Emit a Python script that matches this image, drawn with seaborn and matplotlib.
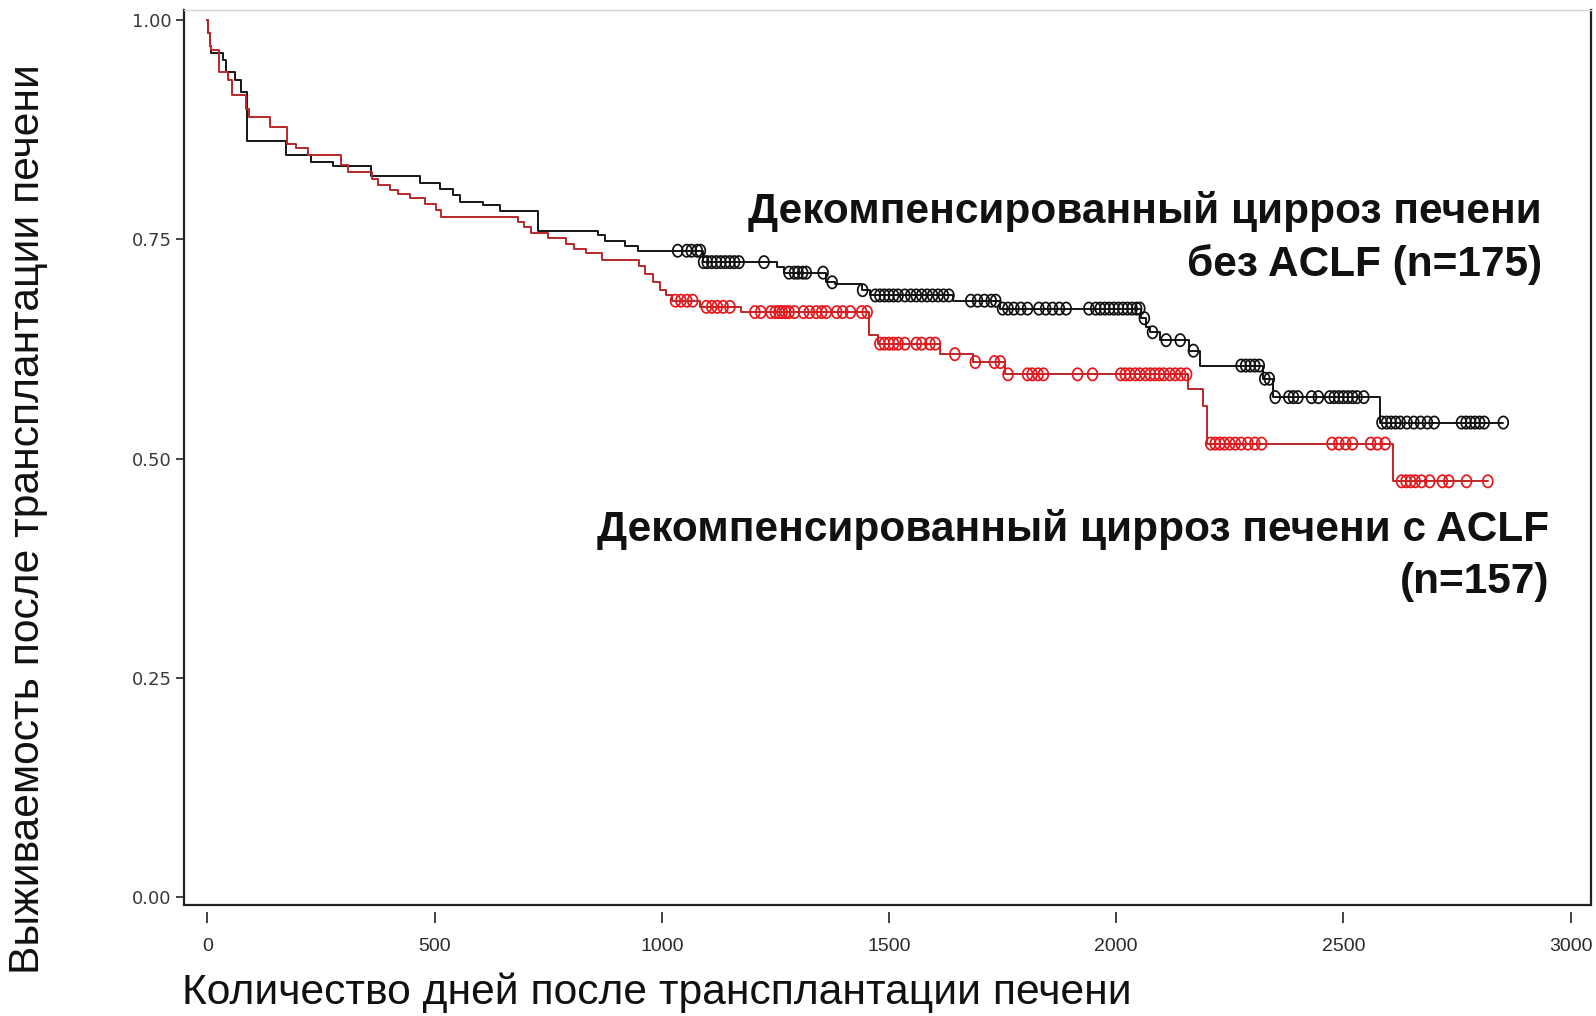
import numpy as np
import pandas as pd
import matplotlib
matplotlib.use("Agg")
import matplotlib.pyplot as plt
from matplotlib.path import Path
import seaborn as sns

# Kaplan-Meier step points: time of each event (days) and survival after it
no_aclf_times = [0, 2, 5, 8, 34, 40, 60, 75, 87, 172, 229, 277, 361, 467, 511, 541, 555, 607,
                 643, 728, 860, 875, 919, 948, 1091, 1254, 1270, 1361, 1381, 1441, 1458, 1641,
                 1745, 2055, 2065, 2075, 2097, 2161, 2184, 2323, 2345, 2580]
no_aclf_surv = [1.0, 0.985, 0.970, 0.962, 0.955, 0.941, 0.932, 0.918, 0.862, 0.846, 0.838,
                0.834, 0.822, 0.814, 0.807, 0.801, 0.793, 0.789, 0.782, 0.759, 0.755, 0.748,
                0.742, 0.737, 0.724, 0.718, 0.712, 0.701, 0.699, 0.692, 0.686, 0.680, 0.671,
                0.660, 0.650, 0.644, 0.635, 0.623, 0.606, 0.591, 0.570, 0.541]
no_aclf_end = 2852
no_aclf_censored = [1035, 1055, 1065, 1078, 1085, 1092, 1100, 1110, 1120, 1130, 1140, 1150, 1160,
                    1170, 1225, 1280, 1292, 1300, 1310, 1318, 1355, 1375, 1442, 1470, 1480, 1490,
                    1500, 1510, 1520, 1535, 1548, 1560, 1572, 1584, 1596, 1608, 1620, 1632, 1680,
                    1695, 1710, 1725, 1735, 1750, 1762, 1775, 1790, 1805, 1830, 1845, 1860, 1875,
                    1890, 1940, 1955, 1965, 1975, 1985, 1995, 2005, 2015, 2025, 2035, 2045, 2052,
                    2062, 2080, 2110, 2141, 2170, 2275, 2285, 2295, 2305, 2315, 2327, 2337, 2350,
                    2380, 2390, 2400, 2430, 2445, 2470, 2480, 2490, 2500, 2510, 2520, 2530, 2545,
                    2585, 2595, 2605, 2615, 2625, 2640, 2655, 2670, 2685, 2700, 2760, 2770, 2780,
                    2790, 2800, 2810, 2852]

aclf_times = [0, 2, 5, 8, 25, 45, 55, 86, 91, 137, 175, 195, 222, 295, 310, 363, 376, 401, 420,
              445, 478, 504, 515, 684, 697, 713, 750, 790, 807, 834, 868, 950, 963, 980, 995,
              1010, 1022, 1085, 1175, 1456, 1475, 1612, 1685, 1755, 2157, 2190, 2200, 2610]
aclf_surv = [1.0, 0.985, 0.970, 0.966, 0.941, 0.932, 0.915, 0.899, 0.890, 0.878, 0.859, 0.854,
             0.846, 0.835, 0.827, 0.819, 0.812, 0.806, 0.802, 0.797, 0.790, 0.783, 0.776, 0.770,
             0.764, 0.757, 0.752, 0.745, 0.739, 0.734, 0.727, 0.720, 0.711, 0.701, 0.692, 0.686,
             0.680, 0.673, 0.667, 0.641, 0.631, 0.619, 0.610, 0.596, 0.579, 0.560, 0.517, 0.474]
aclf_end = 2818
aclf_censored = [1030, 1042, 1055, 1068, 1098, 1110, 1122, 1135, 1150, 1205, 1218, 1240, 1250,
                 1258, 1265, 1272, 1280, 1292, 1312, 1325, 1340, 1352, 1362, 1385, 1398, 1415,
                 1440, 1452, 1480, 1490, 1500, 1510, 1520, 1535, 1560, 1572, 1590, 1602, 1645,
                 1690, 1732, 1745, 1762, 1805, 1815, 1828, 1840, 1915, 1948, 2010, 2020, 2030,
                 2042, 2052, 2065, 2075, 2085, 2095, 2105, 2118, 2130, 2142, 2155, 2208, 2218,
                 2228, 2238, 2250, 2262, 2275, 2290, 2305, 2320, 2475, 2490, 2505, 2520, 2560,
                 2575, 2592, 2628, 2638, 2648, 2658, 2672, 2690, 2718, 2732, 2771, 2818]

group_names = ["no_aclf", "aclf"]
x_ticks = [0, 500, 1000, 1500, 2000, 2500, 3000]
y_ticks = [0.00, 0.25, 0.50, 0.75, 1.00]
x_label = "Количество дней после трансплантации печени"
y_label = "Выживаемость после трансплантации печени"
label_no_aclf = ["Декомпенсированный цирроз печени", "без ACLF (n=175)"]
label_aclf = ["Декомпенсированный цирроз печени с ACLF", "(n=157)"]


def step_frame(times, surv, end, group):
    t = list(times) + [end]
    s = list(surv) + [surv[-1]]
    return pd.DataFrame({"t": t, "S": s, "group": group})


def censor_frame(times, surv, cens, group):
    idx = np.searchsorted(np.asarray(times), np.asarray(cens), side="right") - 1
    return pd.DataFrame({"t": cens, "S": np.asarray(surv)[idx], "group": group})


curves = pd.concat([
    step_frame(no_aclf_times, no_aclf_surv, no_aclf_end, group_names[0]),
    step_frame(aclf_times, aclf_surv, aclf_end, group_names[1]),
], ignore_index=True)
marks = {
    group_names[0]: censor_frame(no_aclf_times, no_aclf_surv, no_aclf_censored, group_names[0]),
    group_names[1]: censor_frame(aclf_times, aclf_surv, aclf_censored, group_names[1]),
}

sns.set_theme(style="white")
plt.rcParams["font.family"] = ["Liberation Sans", "DejaVu Sans"]

W, H = 1596, 1016
fig = plt.figure(figsize=(W / 100, H / 100), dpi=100)
ax = fig.add_axes([184 / W, 1 - 905 / H, (1591 - 184) / W, (905 - 10) / H])

line_palette = {"no_aclf": "#141414", "aclf": "#b8282a"}
mark_palette = {"no_aclf": "#111111", "aclf": "#e8161b"}

sns.lineplot(data=curves, x="t", y="S", hue="group", palette=line_palette,
             estimator=None, sort=False, drawstyle="steps-post", linewidth=1.4,
             legend=False, ax=ax)

# hollow, slightly tall ellipse used for censored observations
th = np.linspace(0, 2 * np.pi, 40)
ellipse = Path(np.c_[0.8 * np.cos(th), np.sin(th)], closed=True)
for g in group_names:
    sns.scatterplot(data=marks[g], x="t", y="S", marker=ellipse, s=78,
                    color=mark_palette[g], edgecolor=mark_palette[g], facecolors="none",
                    linewidth=1.25, legend=False, ax=ax, zorder=3)

ax.set_xlim(-51.5, 3045)
ax.set_ylim(-0.0093 * 1.0, 1.0116)
ax.set_xticks(x_ticks)
ax.set_yticks(y_ticks)
ax.set_yticklabels([f"{v:.2f}" for v in y_ticks])
ax.set_xlabel("")
ax.set_ylabel("")

for side in ["left", "right"]:
    ax.spines[side].set_color("#222222")
    ax.spines[side].set_linewidth(1.6)
ax.spines["top"].set_color("#d4d4d4")
ax.spines["top"].set_linewidth(1.0)
# x ticks sit a little below the frame
ax.spines["bottom"].set_position(("outward", 5))
ax.spines["bottom"].set_visible(False)
ax.plot([0, 1], [0, 0], transform=ax.transAxes, color="#222222", lw=1.6, clip_on=False)

ax.tick_params(axis="x", direction="out", length=8, width=1.3, color="#333333",
               pad=11, labelsize=14, labelcolor="#2a2a2a", bottom=True)
ax.tick_params(axis="y", direction="out", length=6, width=1.3, color="#333333",
               pad=3, labelsize=13, labelcolor="#3a3a3a", left=True)
for lab in ax.get_yticklabels():
    lab.set_family(["DejaVu Sans"])

fig.text(28.5 / W, 1 - 519 / H, y_label, rotation=90, ha="center", va="center",
         fontsize=30.7, color="#111111")
fig.text(657 / W, 1 - 993 / H, x_label, ha="center", va="center",
         fontsize=30.7, color="#111111")

for txt, yy in zip(label_no_aclf, [212, 265]):
    fig.text(1542 / W, 1 - yy / H, txt, ha="right", va="center", fontsize=30.5,
             fontweight="bold", color="#111111")
for txt, yy in zip(label_aclf, [529, 582]):
    fig.text(1549 / W, 1 - yy / H, txt, ha="right", va="center", fontsize=30.5,
             fontweight="bold", color="#111111")

fig.savefig("out.png", dpi=100, facecolor="white")
